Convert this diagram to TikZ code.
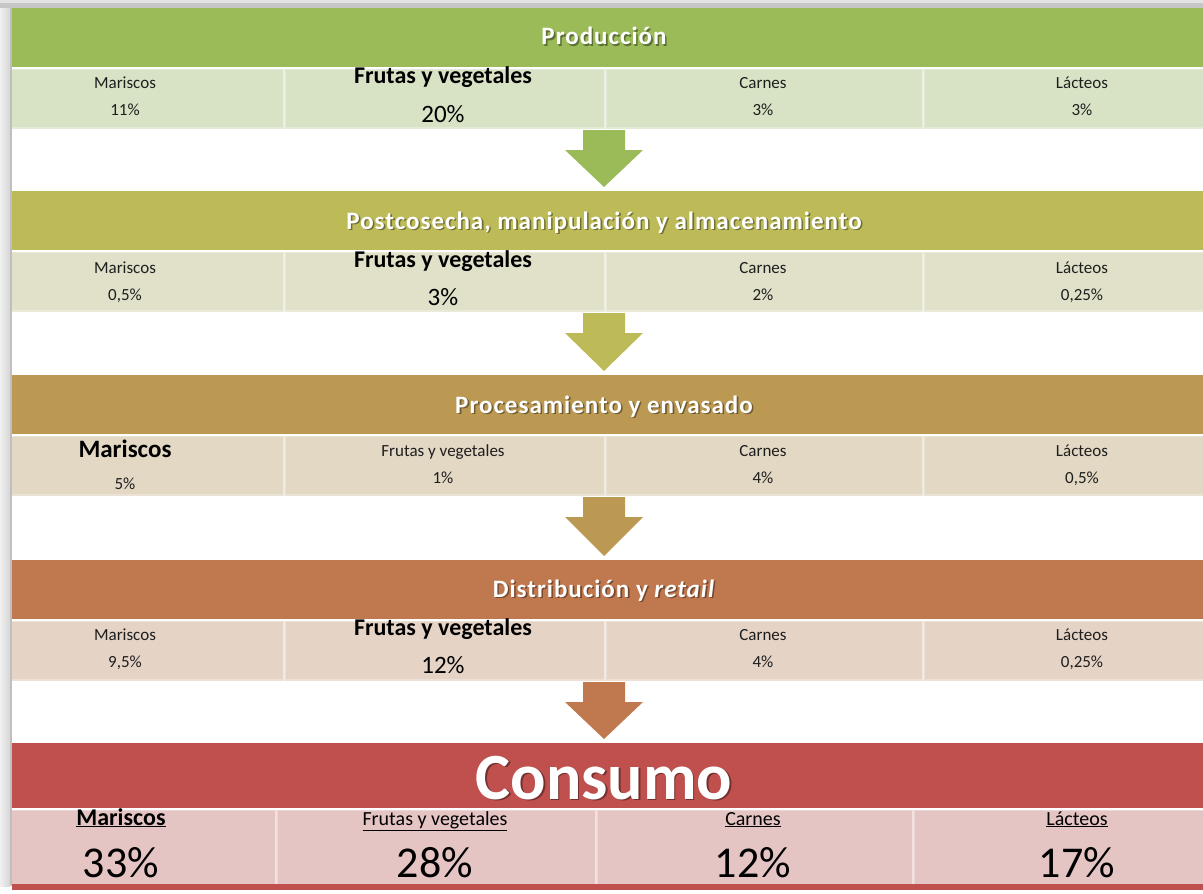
\documentclass[tikz,border=0pt]{standalone}
\usepackage{fontspec}
\setmainfont{Carlito}
\usetikzlibrary{calc}

% stage colours: header band / data row
\definecolor{hA}{HTML}{9BBB59}\definecolor{rA}{HTML}{D8E3C5}
\definecolor{hB}{HTML}{BDBB57}\definecolor{rB}{HTML}{E0E1C8}
\definecolor{hC}{HTML}{BB9953}\definecolor{rC}{HTML}{E2D8C4}
\definecolor{hD}{HTML}{C0784F}\definecolor{rD}{HTML}{E5D3C6}
\definecolor{hE}{HTML}{C0504D}\definecolor{rE}{HTML}{E5C5C4}
\definecolor{ink}{HTML}{1E1E1E}

\tikzset{
  band/.style={inner sep=0, minimum width=1191, minimum height=59, anchor=north west},
  cell/.style={inner sep=0, minimum height=60, anchor=north west,
    draw=white, draw opacity=.3, line width=3},
  lbl/.style={anchor=base, inner sep=0, text=ink, font=\fontsize{17}{20}\selectfont},
  biglbl/.style={anchor=base, inner sep=0, text=black, font=\fontsize{24}{28}\selectfont\bfseries},
  bigpct/.style={anchor=base, inner sep=0, text=black, font=\fontsize{25}{30}\selectfont},
  title/.style={anchor=base, inner sep=0, text=white,
    font=\fontsize{25}{30}\selectfont\bfseries\addfontfeature{LetterSpace=4}},
  titleshadow/.style={title, text=black, text opacity=.4},
  sumlbl/.style={anchor=base, inner sep=0, text=black, font=\fontsize{20}{24}\selectfont},
  sumpct/.style={anchor=base, inner sep=0, text=black, font=\fontsize{44}{50}\selectfont},
}

% one row of four category cells: prefix, top edge, fill colour
\newcommand\catrow[3]{%
  \foreach \i/\xl/\w in {1/-38/321, 2/283/321, 3/604/318, 4/922/318}
    \node[cell, fill=#3, minimum width=\w] (#1\i) at (\xl,#2) {};
}
% block arrow from the bottom of a row down to the next band
\newcommand\flowarrow[3]{%
  \fill[#3] ($(#1)+(-21,0)$) -- ++(0,20) -- ++(-18,0)
    -- ($(#1 |- #2)+(0,-4)$) -- ($(#1)+(39,20)$) -- ++(-18,0)
    -- ($(#1)+(21,0)$) -- cycle;
}
% stage title with a soft drop shadow
\newcommand\stagetitle[4]{%
  \node[titleshadow, #4] (#1s) at ($(#2)+(1.6,1.6)$) {#3};
  \node[title, #4] (#1) at (#2) {#3};
}

\begin{document}
\begin{tikzpicture}[x=1pt,y=-1pt]
\useasboundingbox (0,0) rectangle (1203,894);
\begin{scope}
\clip (0,0) rectangle (1203,894);
\fill[white] (0,0) rectangle (1203,894);

% ---- Producción
\node[band, fill=hA] (hA) at (12,8) {};
\catrow{rA}{67}{rA}
\stagetitle{tA}{604,45}{Producción}{}
\node[lbl]    (rA1a) at (125,88)  {Mariscos};
\node[lbl]    (rA1b) at (125,115) {11\%};
\node[biglbl] (rA2a) at (443,83)  {Frutas y vegetales};
\node[bigpct] (rA2b) at (443,122) {20\%};
\node[lbl]    (rA3a) at (763,88)  {Carnes};
\node[lbl]    (rA3b) at (763,115) {3\%};
\node[lbl]    (rA4a) at (1082,88) {Lácteos};
\node[lbl]    (rA4b) at (1082,115){3\%};

% ---- Postcosecha
\node[band, fill=hB] (hB) at (12,191) {};
\catrow{rB}{250}{rB}
\stagetitle{tB}{604,229}{Postcosecha, manipulación y almacenamiento}{}
\node[lbl]    (rB1a) at (125,273)  {Mariscos};
\node[lbl]    (rB1b) at (125,300)  {0,5\%};
\node[biglbl] (rB2a) at (443,267)  {Frutas y vegetales};
\node[bigpct] (rB2b) at (443,305)  {3\%};
\node[lbl]    (rB3a) at (763,273)  {Carnes};
\node[lbl]    (rB3b) at (763,300)  {2\%};
\node[lbl]    (rB4a) at (1082,273) {Lácteos};
\node[lbl]    (rB4b) at (1082,300) {0,25\%};

% ---- Procesamiento
\node[band, fill=hC] (hC) at (12,375) {};
\catrow{rC}{434}{rC}
\stagetitle{tC}{604,413}{Procesamiento y envasado}{}
\node[biglbl, font=\fontsize{25}{30}\selectfont\bfseries] (rC1a) at (125,457) {Mariscos};
\node[lbl]    (rC1b) at (125,489)  {5\%};
\node[lbl]    (rC2a) at (443,456)  {Frutas y vegetales};
\node[lbl]    (rC2b) at (443,483)  {1\%};
\node[lbl]    (rC3a) at (763,456)  {Carnes};
\node[lbl]    (rC3b) at (763,483)  {4\%};
\node[lbl]    (rC4a) at (1082,456) {Lácteos};
\node[lbl]    (rC4b) at (1082,483) {0,5\%};

% ---- Distribución
\node[band, fill=hD] (hD) at (12,560) {};
\catrow{rD}{619}{rD}
\stagetitle{tD}{604,597}{Distribución y \textit{retail}}{}
\node[lbl]    (rD1a) at (125,640)  {Mariscos};
\node[lbl]    (rD1b) at (125,667)  {9,5\%};
\node[biglbl] (rD2a) at (443,635)  {Frutas y vegetales};
\node[bigpct] (rD2b) at (443,673)  {12\%};
\node[lbl]    (rD3a) at (763,640)  {Carnes};
\node[lbl]    (rD3b) at (763,667)  {4\%};
\node[lbl]    (rD4a) at (1082,640) {Lácteos};
\node[lbl]    (rD4b) at (1082,667) {0,25\%};

% ---- Consumo
\node[band, fill=hE, minimum height=65] (hE) at (12,743) {};
\foreach \i/\xl/\w in {1/-46/321, 2/275/320, 3/595/317, 4/912/318}
  \node[cell, fill=rE, minimum width=\w, minimum height=76] (rE\i) at (\xl,808) {};
\fill[hE] (12,884) rectangle (1203,890);
\stagetitle{tE}{604,799}{Consumo}{font=\fontsize{66}{70}\selectfont\bfseries}
\node[sumlbl, font=\fontsize{24}{28}\selectfont\bfseries] (rE1a) at (121,825) {\underline{Mariscos}};
\node[sumpct] (rE1b) at (121,877)  {33\%};
\node[sumlbl] (rE2a) at (435,825)  {\underline{Frutas y vegetales}};
\node[sumpct] (rE2b) at (435,877)  {28\%};
\node[sumlbl] (rE3a) at (753,825)  {\underline{Carnes}};
\node[sumpct] (rE3b) at (753,877)  {12\%};
\node[sumlbl] (rE4a) at (1077,825) {\underline{Lácteos}};
\node[sumpct] (rE4b) at (1077,877) {17\%};

% ---- arrows between stages
\flowarrow{rA3.south west}{hB.north}{hA}
\flowarrow{rB3.south west}{hC.north}{hB}
\flowarrow{rC3.south west}{hD.north}{hC}
\flowarrow{rD3.south west}{hE.north}{hD}

% ---- window frame at the top and left edges
\shade[left color=gray!12, right color=gray!32] (0,0) rectangle (10,886);
\fill[gray!50] (10,8) rectangle (12,886);
\fill[gray!22] (0,0) rectangle (1203,3);
\fill[gray!45] (0,3) rectangle (1203,8);
\end{scope}
\end{tikzpicture}
\end{document}
